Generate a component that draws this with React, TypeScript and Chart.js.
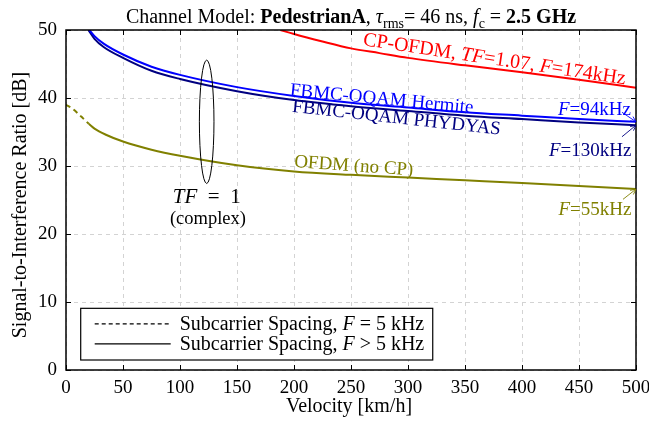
import React, { useEffect, useRef } from "react";
import { Chart, registerables } from "chart.js";
Chart.register(...registerables);

// ---- data ----
const xTicks = [0, 50, 100, 150, 200, 250, 300, 350, 400, 450, 500];
const yTicks = [0, 10, 20, 30, 40, 50];

const cpofdmV = [188, 200, 225, 250, 275, 300, 350, 400, 450, 500];
const cpofdmSIR = [50.0, 49.4, 48.3, 47.3, 46.6, 45.9, 44.8, 43.8, 42.7, 41.5];

const hermiteV = [20.5, 25, 33, 50, 75, 100, 150, 200, 250, 300, 350, 400, 450, 500];
const hermiteSIR = [50.0, 49.1, 48.0, 46.4, 44.6, 43.4, 41.6, 40.3, 39.3, 38.6, 37.9, 37.4, 36.9, 36.5];

const phydyasV = [19.6, 25, 33, 50, 75, 100, 150, 200, 250, 300, 350, 400, 450, 500];
const phydyasSIR = [50.0, 48.7, 47.5, 45.9, 44.0, 42.8, 41.0, 39.7, 38.8, 38.1, 37.4, 36.9, 36.4, 36.0];

const ofdm5kV = [0, 5, 10, 15, 20];
const ofdm5kSIR = [39.0, 38.5, 37.8, 37.0, 36.2];

const ofdmV = [20, 25, 35, 50, 75, 100, 150, 200, 250, 300, 350, 400, 450, 500];
const ofdmSIR = [36.2, 35.5, 34.6, 33.6, 32.4, 31.5, 30.1, 29.2, 28.7, 28.3, 27.9, 27.5, 27.05, 26.6];

const RED = "#ff0000";
const BLUE = "#0000ff";
const NAVY = "#000080";
const OLIVE = "#808000";
const FONT = "'Liberation Serif', 'DejaVu Serif', serif";

type Seg = { t: string; it?: boolean; b?: boolean; sub?: boolean };

function segFont(s: Seg, size: number) {
  const sz = s.sub ? Math.round(size * 0.7) : size;
  return `${s.it ? "italic " : ""}${s.b ? "bold " : ""}${sz}px ${FONT}`;
}

function drawRich(ctx: CanvasRenderingContext2D, segs: Seg[], x: number, y: number, size: number, color: string, align: "left" | "center" | "right") {
  ctx.save();
  ctx.fillStyle = color;
  ctx.textBaseline = "alphabetic";
  ctx.textAlign = "left";
  let total = 0;
  const widths = segs.map((s) => {
    ctx.font = segFont(s, size);
    const w = ctx.measureText(s.t).width;
    total += w;
    return w;
  });
  let cx = align === "left" ? x : align === "center" ? x - total / 2 : x - total;
  segs.forEach((s, i) => {
    ctx.font = segFont(s, size);
    ctx.fillText(s.t, cx, y + (s.sub ? size * 0.25 : 0));
    cx += widths[i];
  });
  ctx.restore();
}

const F: Seg = { t: "F", it: true };

const annotationsPlugin = {
  id: "annots",
  beforeDatasetsDraw(chart: any) {
    const { ctx, chartArea: a, scales } = chart;
    const xs = scales.x, ys = scales.y;
    ctx.save();
    ctx.strokeStyle = "#d3d3d3";
    ctx.lineWidth = 1;
    ctx.setLineDash([4, 4]);
    xTicks.forEach((v) => {
      const px = Math.round(xs.getPixelForValue(v)) + 0.5;
      ctx.beginPath(); ctx.moveTo(px, a.top); ctx.lineTo(px, a.bottom); ctx.stroke();
    });
    yTicks.forEach((v) => {
      const py = Math.round(ys.getPixelForValue(v)) + 0.5;
      ctx.beginPath(); ctx.moveTo(a.left, py); ctx.lineTo(a.right, py); ctx.stroke();
    });
    ctx.restore();
  },
  afterDatasetsDraw(chart: any) {
    const { ctx, chartArea: a, scales } = chart;
    const xs = scales.x, ys = scales.y;
    const X = (v: number) => xs.getPixelForValue(v);
    const Y = (v: number) => ys.getPixelForValue(v);

    // frame + inner ticks
    ctx.save();
    ctx.strokeStyle = "#000";
    ctx.lineWidth = 1.5;
    ctx.setLineDash([]);
    ctx.strokeRect(a.left, a.top, a.right - a.left, a.bottom - a.top);
    ctx.lineWidth = 1;
    xTicks.forEach((v) => {
      const px = Math.round(X(v)) + 0.5;
      ctx.beginPath(); ctx.moveTo(px, a.bottom); ctx.lineTo(px, a.bottom - 5); ctx.stroke();
      ctx.beginPath(); ctx.moveTo(px, a.top); ctx.lineTo(px, a.top + 5); ctx.stroke();
    });
    yTicks.forEach((v) => {
      const py = Math.round(Y(v)) + 0.5;
      ctx.beginPath(); ctx.moveTo(a.left, py); ctx.lineTo(a.left + 5, py); ctx.stroke();
      ctx.beginPath(); ctx.moveTo(a.right, py); ctx.lineTo(a.right - 5, py); ctx.stroke();
    });
    ctx.restore();

    const rot = (segs: Seg[], cx: number, cy: number, deg: number, color: string, size: number) => {
      ctx.save();
      ctx.translate(cx, cy);
      ctx.rotate((deg * Math.PI) / 180);
      drawRich(ctx, segs, 0, size * 0.33, size, color, "center");
      ctx.restore();
    };

    // curve labels
    rot([{ t: "CP-OFDM, " }, { t: "TF", it: true }, { t: "=1.07, " }, F, { t: "=174kHz" }], X(376), Y(45.85), 8.5, RED, 20);
    rot([{ t: "FBMC-OQAM Hermite" }], X(277), Y(40.0), 5.5, BLUE, 19);
    rot([{ t: "FBMC-OQAM PHYDYAS" }], X(290), Y(37.2), 6.3, NAVY, 19);
    rot([{ t: "OFDM (no CP)" }], X(252.5), Y(30.15), 4, OLIVE, 19);

    // right-side labels
    drawRich(ctx, [F, { t: "=94kHz" }], X(495.5), Y(38.55) + 7, 19, BLUE, "right");
    drawRich(ctx, [F, { t: "=130kHz" }], X(496), Y(32.5) + 7, 19, NAVY, "right");
    drawRich(ctx, [F, { t: "=55kHz" }], X(496), Y(23.8) + 7, 19, OLIVE, "right");

    const arrow = (x0: number, y0: number, x1: number, y1: number, color: string) => {
      const p0 = { x: X(x0), y: Y(y0) }, p1 = { x: X(x1), y: Y(y1) };
      ctx.save();
      ctx.strokeStyle = color;
      ctx.lineWidth = 0.9;
      ctx.beginPath(); ctx.moveTo(p0.x, p0.y); ctx.lineTo(p1.x, p1.y); ctx.stroke();
      const ang = Math.atan2(p1.y - p0.y, p1.x - p0.x);
      const L = 6;
      ctx.beginPath();
      ctx.moveTo(p1.x - L * Math.cos(ang - 0.45), p1.y - L * Math.sin(ang - 0.45));
      ctx.lineTo(p1.x, p1.y);
      ctx.lineTo(p1.x - L * Math.cos(ang + 0.45), p1.y - L * Math.sin(ang + 0.45));
      ctx.stroke();
      ctx.restore();
    };
    arrow(487.7, 37.9, 500, hermiteSIR[hermiteSIR.length - 1], BLUE);
    arrow(487.7, 34.3, 500, phydyasSIR[phydyasSIR.length - 1], NAVY);
    arrow(488.6, 25.1, 500, ofdmSIR[ofdmSIR.length - 1], OLIVE);

    // ellipse TF=1
    ctx.save();
    ctx.strokeStyle = "#000";
    ctx.lineWidth = 1;
    const ecx = X(123.4), ecy = Y(36.5);
    const erx = X(123.4 + 6.4) - ecx, ery = ecy - Y(36.5 + 9.07);
    ctx.beginPath();
    ctx.ellipse(ecx, ecy, erx, ery, 0, 0, Math.PI * 2);
    ctx.stroke();
    ctx.restore();
    drawRich(ctx, [{ t: "TF", it: true }, { t: "\u2002=\u20021" }], X(123.5), Y(25.6) + 7, 21, "#000", "center");
    drawRich(ctx, [{ t: "(complex)" }], X(124.5), Y(22.4) + 6, 18.5, "#000", "center");

    // legend
    ctx.save();
    const lx = X(12.9), ly = Y(9.07), lw = X(321.7) - lx, lh = Y(1.47) - ly;
    ctx.fillStyle = "#fff";
    ctx.fillRect(lx, ly, lw, lh);
    ctx.strokeStyle = "#000";
    ctx.lineWidth = 1.2;
    ctx.strokeRect(lx, ly, lw, lh);
    ctx.lineWidth = 1.2;
    ctx.setLineDash([4, 3]);
    ctx.beginPath(); ctx.moveTo(lx + 14, ly + 15.5); ctx.lineTo(lx + 90, ly + 15.5); ctx.stroke();
    ctx.setLineDash([]);
    ctx.beginPath(); ctx.moveTo(lx + 14, ly + 35.5); ctx.lineTo(lx + 90, ly + 35.5); ctx.stroke();
    ctx.restore();
    drawRich(ctx, [{ t: "Subcarrier Spacing, " }, F, { t: " = 5 kHz" }], lx + 99, ly + 21.5, 20, "#000", "left");
    drawRich(ctx, [{ t: "Subcarrier Spacing, " }, F, { t: " > 5 kHz" }], lx + 99, ly + 41.5, 20, "#000", "left");

    // title
    const midX = (a.left + a.right) / 2;
    drawRich(ctx, [
      { t: "Channel Model: " }, { t: "PedestrianA", b: true }, { t: ", " },
      { t: "τ", it: true }, { t: "rms", sub: true }, { t: "= 46 ns, " },
      { t: "f", it: true }, { t: "c", sub: true }, { t: " = " }, { t: "2.5 GHz", b: true },
    ], midX, 23, 20, "#000", "center");

    // axis titles
    drawRich(ctx, [{ t: "Velocity [km/h]" }], 349, 412, 20, "#000", "center");
    ctx.save();
    ctx.translate(26, 205);
    ctx.rotate(-Math.PI / 2);
    drawRich(ctx, [{ t: "Signal-to-Interference Ratio [dB]" }], 0, 0, 20, "#000", "center");
    ctx.restore();
  },
};

function pts(xs: number[], ys: number[]) {
  return xs.map((x, i) => ({ x, y: ys[i] }));
}

export default function App() {
  const ref = useRef<HTMLCanvasElement>(null);
  useEffect(() => {
    document.body.style.margin = "0";
    const line = (data: any, color: string, dash: number[] = []) => ({
      data, borderColor: color, backgroundColor: color, borderWidth: 2,
      pointRadius: 0, borderDash: dash, cubicInterpolationMode: "monotone" as const, fill: false,
    });
    const chart = new Chart(ref.current!, {
      type: "line",
      data: {
        datasets: [
          line(pts(cpofdmV, cpofdmSIR), RED),
          line(pts(hermiteV, hermiteSIR), BLUE),
          line(pts(phydyasV, phydyasSIR), NAVY),
          line(pts(ofdm5kV, ofdm5kSIR), OLIVE, [5, 4]),
          line(pts(ofdmV, ofdmSIR), OLIVE),
        ],
      },
      options: {
        animation: false,
        responsive: false,
        devicePixelRatio: 1,
        layout: { padding: { top: 30, right: 13, left: 0, bottom: 0 } },
        plugins: { legend: { display: false }, tooltip: { enabled: false }, title: { display: false } },
        scales: {
          x: {
            type: "linear", min: 0, max: 500,
            afterBuildTicks: (s: any) => { s.ticks = xTicks.map((v) => ({ value: v })); },
            afterFit: (s: any) => { s.height = 56; s.paddingLeft = 0; s.paddingRight = 0; },
            grid: { display: false, drawTicks: false },
            border: { display: false },
            ticks: { color: "#000", font: { family: FONT, size: 19 }, padding: 7, maxRotation: 0 },
          },
          y: {
            type: "linear", min: 0, max: 50,
            afterBuildTicks: (s: any) => { s.ticks = yTicks.map((v) => ({ value: v })); },
            afterFit: (s: any) => { s.width = 66; s.paddingTop = 0; s.paddingBottom = 0; },
            grid: { display: false, drawTicks: false },
            border: { display: false },
            ticks: { color: "#000", font: { family: FONT, size: 19 }, padding: 9 },
          },
        },
      },
      plugins: [annotationsPlugin],
    });
    return () => chart.destroy();
  }, []);
  return (
    <div style={{ position: "absolute", left: 0, top: 0, width: 649, height: 426 }}>
      <canvas ref={ref} width={649} height={426} />
    </div>
  );
}
